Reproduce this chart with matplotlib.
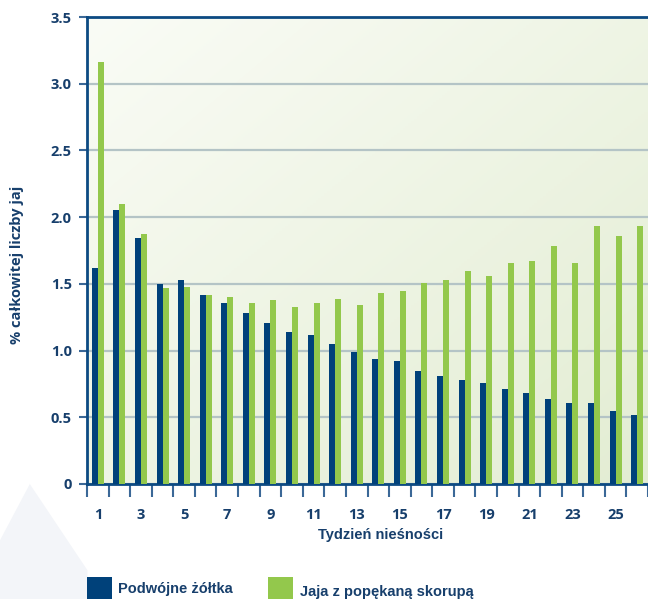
import numpy as np
import matplotlib.pyplot as plt
from matplotlib.patches import Polygon, Rectangle
from matplotlib.colors import LinearSegmentedColormap

# tydzien niesnosci 1..26
tygodnie = list(range(1, 27))
podwojne_zoltka = [1.62, 2.05, 1.84, 1.50, 1.53, 1.42, 1.36, 1.28, 1.21, 1.14,
                   1.12, 1.05, 0.99, 0.94, 0.92, 0.85, 0.81, 0.78, 0.76, 0.71,
                   0.68, 0.64, 0.61, 0.61, 0.55, 0.52]
popekana_skorupa = [3.16, 2.10, 1.87, 1.47, 1.48, 1.42, 1.40, 1.36, 1.38, 1.33,
                    1.36, 1.39, 1.34, 1.43, 1.45, 1.51, 1.53, 1.60, 1.56, 1.66,
                    1.67, 1.78, 1.66, 1.93, 1.86, 1.93]
etykiety_x = [str(t) for t in tygodnie if t % 2 == 1]
etykiety_y = ['0', '0.5', '1.0', '1.5', '2.0', '2.5', '3.0', '3.5']

granat = '#00417a'
zielen = '#93c84c'
tekst = '#173f6c'

fig = plt.figure(figsize=(6.48, 5.99), dpi=100)

# blady trojkat w lewym dolnym rogu
fig.patches.append(Polygon([(0.046, 0.192), (0.135, 0.048), (0.135, 0.0), (0.0, 0.0), (0.0, 0.098)],
                           closed=True, transform=fig.transFigure,
                           facecolor='#f3f5f9', edgecolor='none', zorder=0))

ax = fig.add_axes([0.1343, 0.192, 0.8657, 0.7796])

# tlo z gradientem po przekatnej
cmap = LinearSegmentedColormap.from_list('tlo', ['#fafcf6', '#e3edd3'])
gx, gy = np.meshgrid(np.linspace(0, 1, 200), np.linspace(0, 1, 200))
ax.imshow((gx + gy) / 2, extent=[0, 1, 0, 1], transform=ax.transAxes,
          cmap=cmap, aspect='auto', zorder=0, origin='upper')

x = np.array(tygodnie)
w = 0.278
ax.bar(x - w / 2, podwojne_zoltka, width=w, color=granat, zorder=3)
ax.bar(x + w / 2, popekana_skorupa, width=w, color=zielen, zorder=3)

ax.set_xlim(0.5, 26.5)
ax.set_ylim(0, 3.5)

ax.set_yticks(np.arange(0, 3.51, 0.5))
ax.set_yticklabels(etykiety_y)
ax.yaxis.grid(True, color='#b4c4c6', linewidth=1.6, zorder=1)
ax.set_axisbelow(True)

ax.set_xticks(np.arange(0.5, 26.6, 1))
ax.set_xticklabels([])
ax.set_xticks([t for t in tygodnie if t % 2 == 1], minor=True)
ax.set_xticklabels(etykiety_x, minor=True)
ax.tick_params(axis='x', which='major', length=9.5, width=1.5, color='#3b6897', direction='out')
ax.tick_params(axis='x', which='minor', length=0, pad=17)
ax.tick_params(axis='y', length=6, width=1.5, color='#3b6897', pad=5)

for lab in ax.get_xticklabels(minor=True) + ax.get_yticklabels():
    lab.set_fontfamily('Open Sans')
    lab.set_fontweight('bold')
    lab.set_fontsize(10.5)
    lab.set_color(tekst)

for s in ['left', 'bottom', 'top']:
    ax.spines[s].set_color('#0c4a82')
    ax.spines[s].set_linewidth(2)
ax.spines['right'].set_visible(False)

ax.set_ylabel('% całkowitej liczby jaj', fontfamily='Open Sans', fontweight='bold',
              fontsize=10.5, color=tekst)
ax.yaxis.set_label_coords(-0.112, 0.47)

fig.text(0.588, 0.107, 'Tydzień nieśności', ha='center', va='center',
         fontfamily='Liberation Sans', fontweight='bold', fontsize=10.5, color=tekst)

# legenda
fig.patches.append(Rectangle((0.1343, -0.01), 0.0386, 0.047, transform=fig.transFigure,
                             facecolor=granat, edgecolor='none'))
fig.text(0.182, 0.017, 'Podwójne żółtka', ha='left', va='center',
         fontfamily='Liberation Sans', fontweight='bold', fontsize=10.5, color=tekst)
fig.patches.append(Rectangle((0.4136, -0.01), 0.0386, 0.047, transform=fig.transFigure,
                             facecolor=zielen, edgecolor='none'))
fig.text(0.463, 0.011, 'Jaja z popękaną skorupą', ha='left', va='center',
         fontfamily='Liberation Sans', fontweight='bold', fontsize=10.5, color=tekst)

fig.savefig('out.png', dpi=100)
